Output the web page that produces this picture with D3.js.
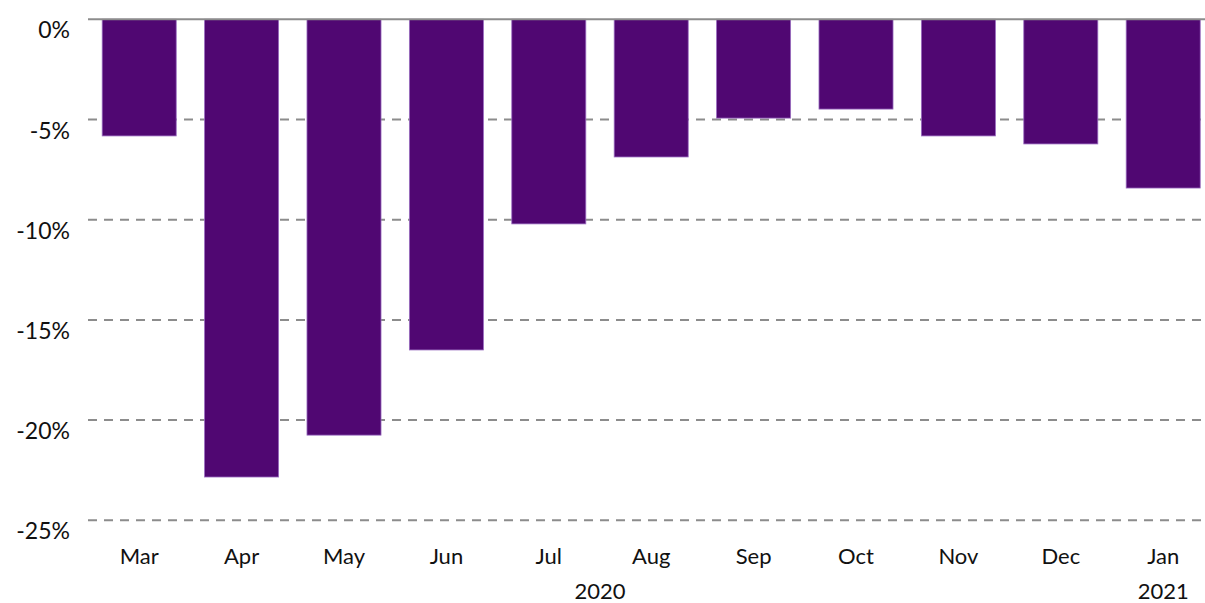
<!DOCTYPE html>
<html>
<head>
<meta charset="utf-8">
<script src="https://cdn.jsdelivr.net/npm/d3@7"></script>
<style>
  html, body { margin: 0; padding: 0; background: #fff; }
  svg { display: block; }
  text { font-family: Lato, "Open Sans", sans-serif; fill: #111; }
</style>
</head>
<body>
<svg id="chart" width="1205" height="603"></svg>
<script>
// Monthly change, March 2020 – January 2021 (%)
const months = ["Mar", "Apr", "May", "Jun", "Jul", "Aug", "Sep", "Oct", "Nov", "Dec", "Jan"];
const values = [-5.82, -22.84, -20.75, -16.5, -10.21, -6.87, -4.93, -4.48, -5.82, -6.22, -8.42];
const yTicks = [0, -5, -10, -15, -20, -25];
const years = [
  { label: "2020", from: "Mar", to: "Dec" },
  { label: "2021", from: "Jan", to: "Jan" }
];

(function draw() {
  const W = 1205;
  const plotLeft = 88, plotTop = 19.3, plotBottom = 520.3;

  const svg = d3.select("#chart");

  const x = d3.scaleBand()
    .domain(months)
    .range([plotLeft, plotLeft + months.length * 102.4])
    .paddingInner(0.277)
    .paddingOuter(0.1385);

  const y = d3.scaleLinear()
    .domain([0, -25])
    .range([plotTop, plotBottom]);

  // dashed gridlines (below zero)
  svg.append("g")
    .selectAll("line")
    .data(yTicks.filter(d => d !== 0))
    .join("line")
    .attr("x1", plotLeft)
    .attr("x2", W)
    .attr("y1", d => y(d))
    .attr("y2", d => y(d))
    .attr("stroke", "#8c8c8c")
    .attr("stroke-width", 2)
    .attr("stroke-dasharray", "9,7");

  // bars
  svg.append("g")
    .selectAll("rect")
    .data(months.map((m, i) => ({ m, v: values[i] })))
    .join("rect")
    .attr("x", d => x(d.m))
    .attr("width", x.bandwidth())
    .attr("y", y(0))
    .attr("height", d => y(d.v) - y(0))
    .attr("fill", "#500772")
    .attr("stroke", "#9a6cc0")
    .attr("stroke-width", 0.8);

  // zero line
  svg.append("line")
    .attr("x1", plotLeft)
    .attr("x2", W)
    .attr("y1", y(0))
    .attr("y2", y(0))
    .attr("stroke", "#8c8c8c")
    .attr("stroke-width", 2);

  // y axis labels (plain hyphen for the minus sign)
  svg.append("g")
    .selectAll("text")
    .data(yTicks)
    .join("text")
    .attr("x", 70)
    .attr("y", d => y(d) + 19)
    .attr("text-anchor", "end")
    .attr("font-size", 23)
    .text(d => String(d) + "%");

  // month labels
  svg.append("g")
    .selectAll("text")
    .data(months)
    .join("text")
    .attr("x", d => x(d) + x.bandwidth() / 2)
    .attr("y", 564)
    .attr("text-anchor", "middle")
    .attr("font-size", 22)
    .text(d => d);

  // year labels, centred under their months
  svg.append("g")
    .selectAll("text")
    .data(years)
    .join("text")
    .attr("x", d => (x(d.from) + x(d.to) + x.bandwidth()) / 2)
    .attr("y", 599)
    .attr("text-anchor", "middle")
    .attr("font-size", 22)
    .text(d => d.label);
})();
</script>
</body>
</html>
